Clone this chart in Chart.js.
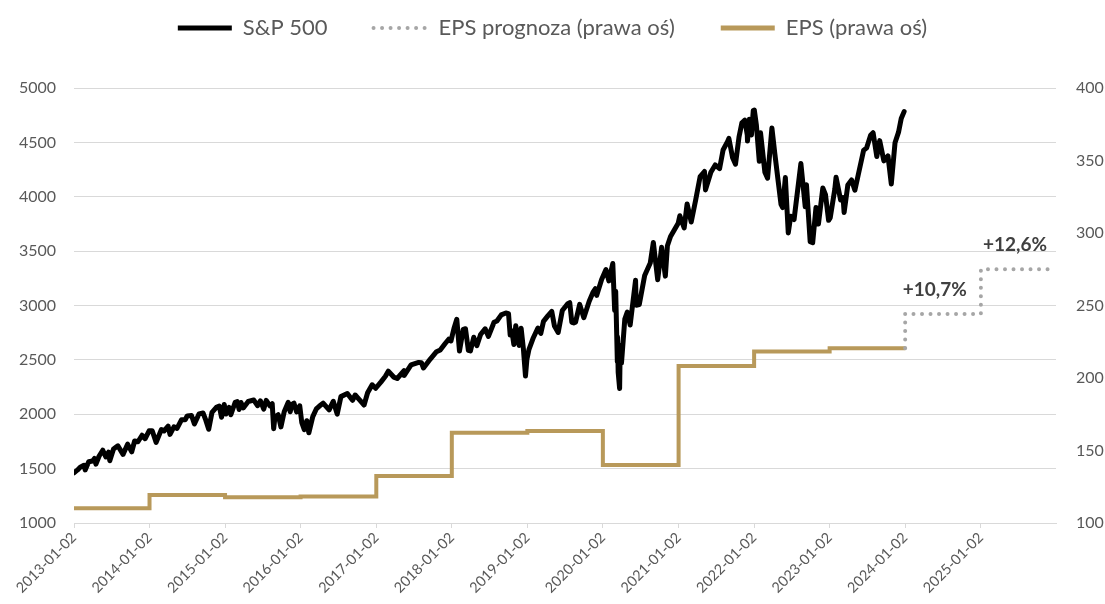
<!DOCTYPE html>
<html>
<head>
<meta charset="utf-8">
<script src="https://cdn.jsdelivr.net/npm/chart.js@4.4.1/dist/chart.umd.min.js"></script>
<style>
html,body{margin:0;padding:0;background:#fff;}
#wrap{width:1105px;height:604px;}
</style>
</head>
<body>
<div id="wrap"><canvas id="c" width="1105" height="604"></canvas></div>
<script>
// ---------------- DATA ----------------
const spDates = [
'2013-01-02','2013-01-18','2013-02-01','2013-02-19','2013-02-25','2013-03-14','2013-04-02','2013-04-11','2013-04-18','2013-05-03','2013-05-21','2013-06-05','2013-06-18','2013-06-24','2013-07-12','2013-08-02','2013-08-27','2013-09-18','2013-10-08','2013-10-22','2013-11-07','2013-11-27','2013-12-12','2013-12-31',
'2014-01-15','2014-02-03','2014-02-28','2014-03-13','2014-04-02','2014-04-11','2014-04-30','2014-05-15','2014-06-06','2014-06-24','2014-07-03','2014-07-24','2014-08-07','2014-08-29','2014-09-18','2014-10-01','2014-10-15','2014-10-31','2014-11-21','2014-12-05','2014-12-16','2014-12-29',
'2015-01-06','2015-01-22','2015-01-30','2015-02-20','2015-03-02','2015-03-11','2015-03-20','2015-04-01','2015-04-24','2015-05-21','2015-06-08','2015-06-22','2015-07-08','2015-07-20','2015-08-07','2015-08-18','2015-08-25','2015-08-31','2015-09-16','2015-09-29','2015-10-15','2015-11-03','2015-11-13','2015-11-20','2015-12-01','2015-12-14','2015-12-29',
'2016-01-08','2016-01-20','2016-02-01','2016-02-11','2016-03-01','2016-03-18','2016-04-01','2016-04-20','2016-05-19','2016-06-08','2016-06-27','2016-07-15','2016-08-15','2016-09-09','2016-09-22','2016-10-11','2016-11-04','2016-11-21','2016-12-13','2016-12-30',
'2017-01-25','2017-02-15','2017-03-01','2017-03-27','2017-04-13','2017-05-16','2017-05-17','2017-06-19','2017-07-26','2017-08-08','2017-08-18','2017-09-20','2017-10-20','2017-11-07','2017-11-30','2017-12-18','2017-12-29',
'2018-01-12','2018-01-26','2018-02-08','2018-02-26','2018-03-09','2018-03-23','2018-04-02','2018-04-18','2018-05-03','2018-05-21','2018-06-12','2018-06-28','2018-07-25','2018-08-08','2018-08-29','2018-09-20','2018-10-03','2018-10-11','2018-10-19','2018-10-29','2018-11-07','2018-11-23','2018-12-03','2018-12-14','2018-12-24','2018-12-31',
'2019-01-10','2019-01-31','2019-02-22','2019-03-08','2019-03-21','2019-04-12','2019-04-30','2019-05-13','2019-05-31','2019-06-20','2019-07-15','2019-07-26','2019-08-05','2019-08-14','2019-08-23','2019-09-12','2019-10-02','2019-10-28','2019-11-15','2019-11-27','2019-12-03','2019-12-27',
'2020-01-17','2020-01-31','2020-02-19','2020-02-28','2020-03-04','2020-03-12','2020-03-13','2020-03-16','2020-03-23','2020-03-26','2020-04-01','2020-04-17','2020-04-29','2020-05-13','2020-06-08','2020-06-11','2020-06-26','2020-07-22','2020-08-18','2020-09-02','2020-09-23','2020-10-12','2020-10-30','2020-11-09','2020-11-24','2020-12-31',
'2021-01-08','2021-01-29','2021-02-12','2021-03-04','2021-03-26','2021-04-16','2021-05-07','2021-05-12','2021-06-07','2021-06-28','2021-07-19','2021-08-05','2021-08-27','2021-09-02','2021-09-20','2021-10-04','2021-10-21','2021-11-04','2021-11-18','2021-11-30','2021-12-01','2021-12-10','2021-12-20','2021-12-29',
'2022-01-03','2022-01-13','2022-01-27','2022-02-02','2022-02-23','2022-03-08','2022-03-29','2022-04-12','2022-04-29','2022-05-12','2022-05-20','2022-06-02','2022-06-16','2022-06-28','2022-07-14','2022-08-16','2022-09-06','2022-09-12','2022-09-30','2022-10-12','2022-10-28','2022-11-09','2022-11-30','2022-12-13','2022-12-28',
'2023-01-05','2023-01-27','2023-02-02','2023-02-24','2023-03-08','2023-03-13','2023-03-31','2023-04-18','2023-05-04','2023-05-19','2023-06-15','2023-06-30','2023-07-19','2023-07-31','2023-08-18','2023-09-01','2023-09-21','2023-10-11','2023-10-27','2023-11-14','2023-12-01','2023-12-14','2023-12-28'
];
const spValues = [
1462,1486,1513,1530,1488,1563,1570,1593,1541,1614,1669,1608,1651,1573,1680,1710,1631,1725,1655,1754,1747,1807,1775,1848,
1848,1741,1859,1846,1890,1815,1884,1870,1950,1950,1985,1988,1910,2003,2011,1946,1862,2018,2064,2075,1973,2090,
2002,2063,1995,2110,2117,2044,2108,2059,2117,2131,2079,2123,2047,2128,2077,2097,1867,1972,1996,1884,2023,2109,2023,2089,2102,2021,2078,
1922,1859,1940,1829,1978,2049,2073,2102,2040,2119,2001,2162,2190,2128,2177,2136,2085,2198,2271,2239,
2298,2349,2396,2342,2329,2400,2357,2453,2477,2474,2425,2508,2575,2591,2648,2690,2674,
2786,2873,2581,2780,2786,2588,2582,2708,2630,2733,2786,2716,2846,2858,2914,2931,2925,2728,2768,2641,2814,2633,2790,2600,2351,2507,
2597,2704,2793,2743,2854,2907,2946,2812,2752,2954,3014,3026,2845,2840,2847,3010,2888,3040,3120,3154,3093,3240,
3330,3226,3386,2954,3130,2480,2711,2386,2237,2630,2471,2875,2940,2820,3232,3002,3009,3276,3390,3580,3237,3535,3270,3550,3635,3756,
3825,3714,3934,3768,3975,4185,4232,4063,4226,4292,4258,4430,4509,4537,4358,4300,4549,4680,4704,4567,4513,4712,4568,4793,
4797,4659,4326,4589,4225,4170,4632,4397,4132,3930,3901,4176,3667,3821,3790,4305,3908,4110,3586,3577,3901,3749,4080,4019,3783,
3808,4070,4179,3970,3992,3855,4109,4154,4061,4191,4426,4450,4565,4589,4370,4516,4330,4376,4117,4496,4594,4720,4783
];
const epsDates  = ['2013-01-02','2014-01-02','2015-01-02','2016-01-02','2017-01-02','2018-01-02','2019-01-02','2020-01-02','2021-01-02','2022-01-02','2023-01-02','2024-01-02'];
const epsValues = [110.1,119.3,117.8,118.2,132.4,162.3,163.4,140.0,208.2,218.3,220.6,220.6];
const forecastDates  = ['2024-01-02','2025-01-02','2025-12-31'];
const forecastValues = [220.6,244.2,275.0];
const forecastLabels = ['+10,7%','+12,6%'];
const xTickDates = ['2013-01-02','2014-01-02','2015-01-02','2016-01-02','2017-01-02','2018-01-02','2019-01-02','2020-01-02','2021-01-02','2022-01-02','2023-01-02','2024-01-02','2025-01-02'];
const seriesNames = ['S&P 500','EPS prognoza (prawa oś)','EPS (prawa oś)'];

// ---------------- HELPERS ----------------
function dayNum(s){const p=s.split('-').map(Number);return (Date.UTC(p[0],p[1]-1,p[2])-Date.UTC(2013,0,2))/86400000;}
function toXY(dates, vals){return dates.map((d,i)=>({x:dayNum(d),y:vals[i]}));}
const tickMap = {}; xTickDates.forEach(d=>{tickMap[dayNum(d)]=d;});

const FONT = 'Lato, "Open Sans", sans-serif';
Chart.defaults.font.family = FONT;
Chart.defaults.color = '#595959';

const legendFix = {
  id:'legendFix',
  beforeUpdate(chart){
    const lg = chart.legend;
    if (lg && !lg._wrapped){
      const fit = lg.fit;
      lg.fit = function(){ fit.call(this); this.height = 88; };
      lg._wrapped = true;
    }
  },
  afterLayout(chart){
    if (chart.legend) chart.legend.top = -29;
  }
};

const annot = {
  id:'annot',
  afterDatasetsDraw(chart){
    const ctx = chart.ctx, xs = chart.scales.x, ys = chart.scales.y1;
    ctx.save();
    ctx.font = 'bold 19px ' + FONT;
    ctx.fillStyle = '#404040';
    ctx.textAlign = 'right';
    ctx.textBaseline = 'middle';
    ctx.fillText(forecastLabels[0], xs.getPixelForValue(dayNum(forecastDates[1])) - 14, ys.getPixelForValue(forecastValues[1]) - 24);
    ctx.fillText(forecastLabels[1], chart.chartArea.right - 9, ys.getPixelForValue(forecastValues[2]) - 24);
    ctx.restore();
  }
};

new Chart(document.getElementById('c'), {
  type:'line',
  data:{
    datasets:[
      {label:seriesNames[0], data:toXY(spDates,spValues), yAxisID:'y', borderColor:'#000000', backgroundColor:'#000000',
       borderWidth:5, pointRadius:0, tension:0, borderJoinStyle:'round', borderCapStyle:'round'},
      {label:seriesNames[1], data:toXY(forecastDates,forecastValues), yAxisID:'y1', stepped:'after', borderColor:'#A6A6A6', backgroundColor:'#A6A6A6',
       borderWidth:4, borderDash:[0.01,8.5], borderCapStyle:'round', pointRadius:0},
      {label:seriesNames[2], data:toXY(epsDates,epsValues), yAxisID:'y1', stepped:true, borderColor:'#B8995A', backgroundColor:'#B8995A',
       borderWidth:4, pointRadius:0, borderCapStyle:'butt'}
    ]
  },
  options:{
    responsive:false,
    animation:false,
    devicePixelRatio:1,
    layout:{padding:{left:0,right:0,top:0,bottom:0}},
    plugins:{
      legend:{
        position:'top',
        labels:{usePointStyle:true, pointStyle:'line', pointStyleWidth:54, padding:46,
                font:{size:22, family:FONT}, color:'#595959',
                generateLabels(chart){
                  return chart.data.datasets.map((ds,i)=>({
                    text:ds.label, datasetIndex:i, hidden:false,
                    fillStyle:ds.borderColor, strokeStyle:ds.borderColor,
                    lineWidth: ds.borderDash ? 4 : 5,
                    lineDash: ds.borderDash || [],
                    lineCap: ds.borderDash ? 'round' : 'butt',
                    pointStyle:'line', fontColor:'#595959'
                  }));
                }}
      },
      tooltip:{enabled:false}
    },
    scales:{
      x:{
        type:'linear', min:0, max:dayNum('2025-12-31'),
        afterBuildTicks(scale){ scale.ticks = xTickDates.map(d=>({value:dayNum(d)})); },
        afterFit(scale){ scale.height = 81; },
        ticks:{autoSkip:false, minRotation:45, maxRotation:45, padding:1, font:{size:14.5}, color:'#595959',
               callback:(v)=>tickMap[v]||''},
        grid:{drawOnChartArea:false, drawTicks:true, tickLength:5, color:'#D9D9D9'},
        border:{display:true, color:'#D9D9D9', width:1}
      },
      y:{
        position:'left', min:1000, max:5000,
        afterBuildTicks(scale){ const t=[]; for(let v=1000;v<=5000;v+=500) t.push({value:v}); scale.ticks=t; },
        afterFit(scale){ scale.width = 74; },
        ticks:{padding:18, font:{size:16}, color:'#595959', callback:(v)=>String(v)},
        grid:{color:'#D9D9D9', lineWidth:1, drawTicks:false},
        border:{display:false}
      },
      y1:{
        position:'right', min:100, max:400,
        afterBuildTicks(scale){ const t=[]; for(let v=100;v<=400;v+=50) t.push({value:v}); scale.ticks=t; },
        afterFit(scale){ scale.width = 49; },
        ticks:{padding:20, font:{size:16}, color:'#595959', callback:(v)=>String(v)},
        grid:{display:false, drawTicks:false},
        border:{display:false}
      }
    }
  },
  plugins:[legendFix, annot]
});
</script>
</body>
</html>
